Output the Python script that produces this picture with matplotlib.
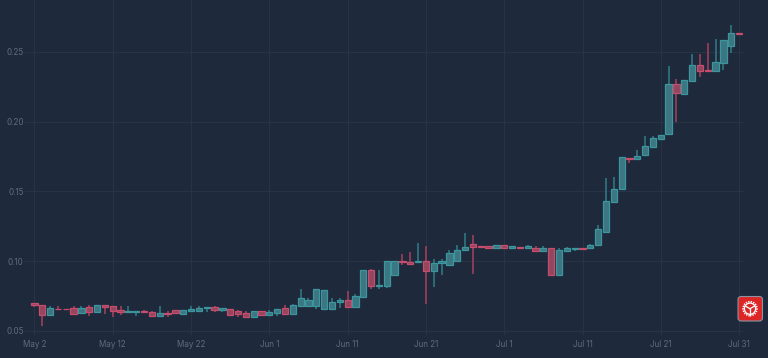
import datetime as dt

import matplotlib
matplotlib.use("Agg")
import matplotlib.dates as mdates
import matplotlib.pyplot as plt
from matplotlib.patches import Circle, FancyBboxPatch

START_DATE = dt.date(2022, 5, 2)

opens = [
    .0703, .0684, .0615, .0660, .0658, .0662, .0627, .0670, .0636, .0684,
    .0677, .0648, .0636, .0639, .0644, .0639, .0610, .0629, .0648, .0622,
    .0646, .0644, .0663, .0672, .0653, .0658, .0641, .0632, .0603, .0641,
    .0617, .0631, .0662, .0619, .0679, .0681, .0679, .0658, .0660, .0705,
    .0720, .0674, .0744, .0935, .0822, .0820, .0899, .0999, .0997, .0994,
    .0999, .0927, .0985, .0975, .1001, .1080, .1126, .1106, .1106, .1095,
    .1116, .1095, .1102, .1092, .1097, .1071, .1097, .0901, .1073, .1090,
    .1097, .1095, .1114, .1207, .1422, .1517, .1739, .1730, .1758, .1820,
    .1875, .1909, .2267, .2200, .2291, .2403, .2367, .2360, .2420, .2539,
    .2637,
]
highs = [
    .0703, .0684, .0677, .0677, .0658, .0677, .0677, .0684, .0684, .0684,
    .0677, .0677, .0677, .0646, .0648, .0646, .0677, .0646, .0648, .0651,
    .0677, .0677, .0672, .0677, .0665, .0658, .0648, .0641, .0646, .0641,
    .0653, .0660, .0684, .0696, .0798, .0734, .0798, .0796, .0734, .0734,
    .0784, .0767, .0935, .0944, .0935, .0999, .0999, .1049, .1063, .1128,
    .1109, .1018, .1013, .1083, .1118, .1199, .1185, .1106, .1106, .1116,
    .1116, .1111, .1102, .1118, .1106, .1106, .1097, .1097, .1102, .1097,
    .1097, .1126, .1257, .1596, .1603, .1744, .1739, .1794, .1894, .1894,
    .1902, .2396, .2303, .2300, .2482, .2482, .2561, .2592, .2585, .2694,
    .2637,
]
lows = [
    .0672, .0533, .0615, .0655, .0655, .0624, .0627, .0608, .0636, .0624,
    .0598, .0615, .0636, .0608, .0636, .0610, .0610, .0598, .0624, .0622,
    .0646, .0636, .0636, .0636, .0636, .0615, .0598, .0603, .0603, .0617,
    .0617, .0605, .0619, .0619, .0679, .0681, .0655, .0658, .0660, .0667,
    .0674, .0674, .0744, .0803, .0801, .0806, .0899, .0970, .0980, .0994,
    .0696, .0818, .0899, .0975, .1001, .1080, .0906, .1102, .1097, .1095,
    .1095, .1095, .1095, .1092, .1066, .1071, .0901, .0901, .1073, .1073,
    .1078, .1095, .1114, .1207, .1422, .1517, .1703, .1730, .1758, .1820,
    .1875, .1909, .1995, .2200, .2291, .2317, .2360, .2360, .2367, .2491,
    .2627,
]
closes = [
    .0686, .0615, .0662, .0655, .0655, .0624, .0667, .0634, .0684, .0675,
    .0644, .0639, .0641, .0646, .0636, .0610, .0627, .0624, .0629, .0651,
    .0660, .0665, .0672, .0648, .0665, .0615, .0624, .0603, .0646, .0617,
    .0636, .0660, .0619, .0684, .0739, .0724, .0798, .0796, .0710, .0722,
    .0674, .0748, .0935, .0820, .0827, .0999, .0999, .0992, .0980, .1001,
    .0927, .0989, .0999, .1056, .1083, .1099, .1102, .1102, .1097, .1116,
    .1095, .1111, .1095, .1111, .1071, .1097, .0901, .1078, .1092, .1097,
    .1090, .1116, .1228, .1429, .1515, .1744, .1732, .1756, .1825, .1880,
    .1902, .2267, .2202, .2300, .2403, .2360, .2360, .2425, .2585, .2635,
    .2627,
]
y_ticks = [0.05, 0.10, 0.15, 0.20, 0.25]
y_labels = ["0.05", "0.10", "0.15", "0.20", "0.25"]
x_labels = ["May 2", "May 12", "May 22", "Jun 1", "Jun 11", "Jun 21", "Jul 1", "Jul 11", "Jul 21", "Jul 31"]

BG = "#1e293b"
GRID = "#273446"
TEXT = "#5f6c80"

dates = [mdates.date2num(START_DATE + dt.timedelta(days=i)) for i in range(len(opens))]
x_ticks = dates[::10]

fig = plt.figure(figsize=(7.68, 3.58), dpi=100, facecolor=BG)
ax = fig.add_axes([25 / 768, 1 - 335 / 358, (743 - 25) / 768, 335 / 358], facecolor=BG)

for d, o, h, l, c in zip(dates, opens, highs, lows, closes):
    up = c >= o
    ax.vlines(d, l, h, color="#2c6b77" if up else "#8a3c58", linewidth=1.4, zorder=2)
    ax.bar(d, abs(c - o), bottom=min(o, c), width=0.8,
           color="#3b7682" if up else "#95465f",
           edgecolor="#3c969d" if up else "#c84d6c",
           linewidth=0.9, zorder=3)

ax.set_xlim(dates[0] - 1.21, dates[0] + 90.5)
# 0.05 sits at y=331 px and each 0.05 is 69.8 px
ax.set_ylim(0.05 - 4 / 1396, 0.05 + 331 / 1396)
ax.set_xticks(x_ticks)
ax.set_xticklabels(x_labels)
ax.set_yticks(y_ticks)
ax.set_yticklabels(y_labels)
ax.tick_params(length=0, colors=TEXT, labelsize=5.8, pad=3.5)
ax.tick_params(axis="y", pad=1)
ax.grid(True, color=GRID, linewidth=0.8)
ax.set_axisbelow(True)
for spine in ax.spines.values():
    spine.set_visible(False)
for label in ax.get_xticklabels() + ax.get_yticklabels():
    label.set_family(["Inter", "DejaVu Sans"])

# red settings button in the bottom right corner, placed in pixels
def px(x, y):
    return x / 768, 1 - y / 358

btn_x, btn_y = px(738, 321)
fig.add_artist(FancyBboxPatch((btn_x, btn_y), 24.5 / 768, 24.5 / 358, transform=fig.transFigure,
                              boxstyle="round,pad=0,rounding_size=0.004", mutation_aspect=2.1,
                              facecolor="#dc2626", edgecolor="#8b93a1", linewidth=0.8, zorder=10))
cx, cy = 750, 308.7
fig.add_artist(Circle((cx, 358 - cy), 7, transform=None, fill=False, edgecolor="white",
                      linewidth=1.2, linestyle=(0, (0.8, 0.7)), zorder=11))
fig.add_artist(Circle((cx, 358 - cy), 5.6, transform=None, fill=False, edgecolor="white",
                      linewidth=0.9, zorder=11))
for ex, ey in [(cx, cy + 5.5), (cx - 4.7, cy - 2.7), (cx + 4.7, cy - 2.7)]:
    x0, y0 = px(cx, cy)
    x1, y1 = px(ex, ey)
    fig.add_artist(plt.Line2D([x0, x1], [y0, y1], transform=fig.transFigure, color="white",
                              linewidth=0.9, zorder=11))

fig.savefig("out.png", dpi=100, facecolor=BG)
